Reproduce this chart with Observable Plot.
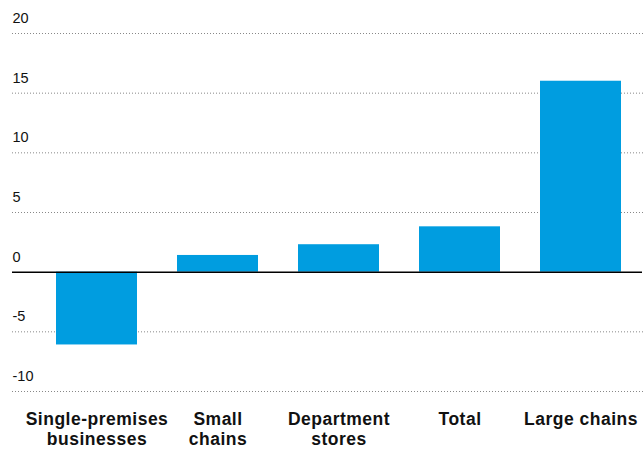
<!DOCTYPE html>
<html>
<head>
<meta charset="utf-8">
<script src="https://cdn.jsdelivr.net/npm/d3@7"></script>
<script src="https://cdn.jsdelivr.net/npm/@observablehq/plot@0.6"></script>
<style>
  html, body { margin: 0; padding: 0; background: #fff; }
  svg { display: block; }
  svg g[font-weight="bold"] { letter-spacing: 0.5px; }
</style>
</head>
<body>
<div id="chart"></div>
<script>
const categories = ["Single-premises\nbusinesses", "Small\nchains", "Department\nstores", "Total", "Large chains"];
const values = [-6.1, 1.4, 2.3, 3.8, 16.0];
const yTicks = [-10, -5, 0, 5, 10, 15, 20];

const data = categories.map((c, i) => ({category: c, value: values[i]}));

const chart = Plot.plot({
  width: 644,
  height: 461,
  marginTop: 33,
  marginBottom: 70,
  marginLeft: 12,
  marginRight: 0,
  style: {fontFamily: "'Liberation Sans', Arial, sans-serif", background: "#fff"},
  x: {domain: categories, paddingInner: 0.333, paddingOuter: 0.27, align: 0.65, axis: null},
  y: {domain: [-10, 20], axis: null},
  marks: [
    Plot.ruleY(yTicks.filter(d => d !== 0), {stroke: "#888", strokeWidth: 1, strokeDasharray: "1,2"}),
    Plot.barY(data, {x: "category", y: "value", fill: "#009de0"}),
    Plot.ruleY([0], {stroke: "#000", strokeWidth: 1.5, insetRight: 2}),
    Plot.text(yTicks, {y: d => d, text: d => String(d), frameAnchor: "left", textAnchor: "start", dy: -15, fontSize: 14.5, fill: "#111"}),
    Plot.text(data, {x: "category", y: -10, text: "category", frameAnchor: "top", dy: 19, fontSize: 17.5, fontWeight: "bold", fill: "#111", lineHeight: 1.15, lineAnchor: "top"})
  ]
});
document.getElementById("chart").appendChild(chart);
</script>
</body>
</html>
